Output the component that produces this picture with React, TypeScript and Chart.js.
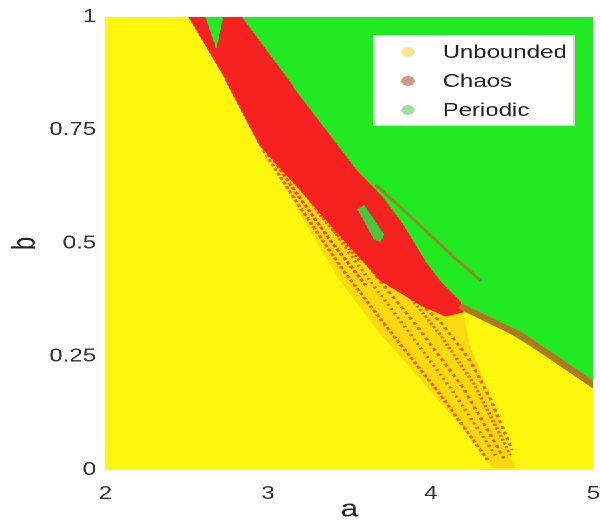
import React, { useEffect, useRef } from 'react';
import { Chart, registerables } from 'chart.js';

Chart.register(...registerables);

// ---- axis ticks ----
const xTickValues = [2, 3, 4, 5];
const xTickLabels = ['2', '3', '4', '5'];
const yTickValues = [0, 0.25, 0.5, 0.75, 1];
const yTickLabels = ['0', '0.25', '0.5', '0.75', '1'];

// ---- regions (a, b) ----
const unboundedA = [2, 5, 5, 2];
const unboundedB = [0, 0, 1, 1];

const chaosA = [2.51, 2.84, 3.16, 3.55, 3.71, 3.83, 3.98, 4.06, 4.18, 4.2, 4.09, 3.94, 3.69, 3.44, 3.2, 2.95, 2.74];
const chaosB = [1.0, 1.0, 0.845, 0.662, 0.603, 0.545, 0.457, 0.419, 0.375, 0.349, 0.34, 0.364, 0.419, 0.519, 0.618, 0.717, 0.861];

const periodicA = [2.84, 5, 5, 4.2, 4.18, 4.06, 3.98, 3.83, 3.71, 3.55, 3.16];
const periodicB = [1, 1, 0.19, 0.365, 0.375, 0.419, 0.457, 0.545, 0.603, 0.662, 0.845];

// chaotic streak band below the solid chaos region
const streakZoneA = [2.92, 3.2, 3.44, 3.67, 3.94, 4.29, 4.38, 4.52, 4.47, 4.35, 4.24, 4.2, 4.09, 3.94, 3.69, 3.44, 3.2, 2.95];
const streakZoneB = [0.751, 0.563, 0.419, 0.309, 0.199, 0.051, 0.004, 0.004, 0.051, 0.177, 0.276, 0.349, 0.34, 0.364, 0.419, 0.519, 0.618, 0.717];

const streak1A = [2.97, 3.2, 3.46, 3.72, 4.06, 4.35];
const streak1B = [0.706, 0.578, 0.442, 0.32, 0.166, 0.022];
const streak2A = [3.05, 3.29, 3.54, 3.8, 4.13, 4.41];
const streak2B = [0.706, 0.585, 0.459, 0.336, 0.177, 0.026];
const streak3A = [3.2, 3.44, 3.66, 3.91, 4.2, 4.45];
const streak3B = [0.662, 0.541, 0.43, 0.32, 0.181, 0.026];
const streak4A = [3.38, 3.63, 3.84, 4.06, 4.27, 4.49];
const streak4B = [0.585, 0.486, 0.397, 0.298, 0.188, 0.033];
const streak5A = [3.81, 4.06, 4.24, 4.37, 4.5];
const streak5B = [0.408, 0.327, 0.243, 0.155, 0.044];
const streak6A = [2.89, 3.14, 3.38, 3.6];
const streak6B = [0.762, 0.629, 0.508, 0.408];
const streak7A = [3.11, 3.32, 3.57];
const streak7B = [0.673, 0.563, 0.459];

// boundary band between periodic and unbounded
const edgeBandA = [4.18, 4.55, 5.05];
const edgeBandB = [0.362, 0.298, 0.176];
// thin window line inside periodic region
const windowLineA = [3.66, 3.8, 4.16, 4.31];
const windowLineB = [0.63, 0.585, 0.464, 0.418];

// periodic islands inside chaos
const wedgeA = [2.615, 2.72, 2.68];
const wedgeB = [1.0, 1.0, 0.932];
const islandA = [3.55, 3.59, 3.71, 3.69, 3.65];
const islandB = [0.575, 0.583, 0.52, 0.505, 0.51];

const YELLOW = 'rgb(252,247,12)';
const RED = 'rgb(246,34,34)';
const GREEN = 'rgb(34,234,34)';
const BROWN = 'rgb(178,118,34)';
const STREAK = 'rgb(236,96,22)';
const STREAK_FILL = 'rgba(240,140,30,0.28)';

const FONT = '"Liberation Sans", Arial, Helvetica, sans-serif';

function pts(A: number[], B: number[]) {
  return A.map((a, i) => ({ x: a, y: B[i] }));
}

function poly(label: string, A: number[], B: number[], color: string, order: number, extra: any = {}) {
  return {
    type: 'line',
    label,
    data: pts(A, B),
    backgroundColor: color,
    borderColor: color,
    borderWidth: 1,
    fill: 'shape',
    pointRadius: 0,
    tension: 0,
    order,
    ...extra,
  };
}

function stroke(label: string, A: number[], B: number[], color: string, width: number, order: number, dash: number[] = []) {
  return {
    type: 'line',
    label,
    data: pts(A, B),
    borderColor: color,
    backgroundColor: color,
    borderWidth: width,
    borderDash: dash,
    borderCapStyle: 'butt',
    fill: false,
    pointRadius: 0,
    tension: 0,
    order,
  };
}

const boxLegend = {
  id: 'boxLegend',
  afterDraw(chart: any) {
    const { ctx, chartArea } = chart;
    const items = chart.data.datasets.filter((d: any) => d.legendColor);
    const w = 150;
    const h = 90;
    const left = chartArea.right - 15 - w;
    const top = chartArea.top + 18;
    ctx.save();
    ctx.fillStyle = '#ffffff';
    ctx.fillRect(left, top, w, h);
    ctx.strokeStyle = '#d6d6d6';
    ctx.lineWidth = 1;
    ctx.strokeRect(left + 0.5, top + 0.5, w, h);
    ctx.font = `18px ${FONT}`;
    ctx.textBaseline = 'middle';
    ctx.textAlign = 'left';
    items.forEach((d: any, i: number) => {
      const y = top + 17 + i * 29;
      ctx.beginPath();
      ctx.fillStyle = d.legendColor;
      ctx.arc(left + 26, y, 5, 0, Math.PI * 2);
      ctx.fill();
      ctx.fillStyle = '#222222';
      ctx.fillText(d.label, left + 52, y + 1);
    });
    ctx.restore();
  },
};

export default function App() {
  const ref = useRef<HTMLCanvasElement | null>(null);

  useEffect(() => {
    if (!ref.current) return;
    const datasets: any[] = [
      poly('Unbounded', unboundedA, unboundedB, YELLOW, 20, { legendColor: 'rgb(250,226,150)' }),
      poly('Chaos', chaosA, chaosB, RED, 15, { legendColor: 'rgb(214,150,134)' }),
      poly('Periodic', periodicA, periodicB, GREEN, 14, { legendColor: 'rgb(160,222,160)' }),
      poly('streak zone', streakZoneA, streakZoneB, STREAK_FILL, 19, { borderColor: 'rgba(0,0,0,0)' }),
      stroke('s1', streak1A, streak1B, STREAK, 2.5, 18, [3, 2]),
      stroke('s2', streak2A, streak2B, STREAK, 2.5, 18, [2, 3]),
      stroke('s3', streak3A, streak3B, STREAK, 2.5, 18, [3, 3]),
      stroke('s4', streak4A, streak4B, STREAK, 2.5, 18, [2, 2]),
      stroke('s5', streak5A, streak5B, STREAK, 2.5, 18, [3, 3]),
      stroke('s6', streak6A, streak6B, 'rgb(238,70,24)', 2.5, 18, [3, 2]),
      stroke('s7', streak7A, streak7B, 'rgb(238,70,24)', 2.5, 18, [2, 2]),
      stroke('edge band', edgeBandA, edgeBandB, BROWN, 6, 12),
      stroke('window line', windowLineA, windowLineB, 'rgba(168,112,40,0.8)', 2.5, 11),
      poly('wedge', wedgeA, wedgeB, GREEN, 10),
      poly('island', islandA, islandB, 'rgb(70,200,60)', 10),
    ];

    const chart = new Chart(ref.current, {
      type: 'line',
      data: { datasets },
      options: {
        animation: false,
        responsive: false,
        devicePixelRatio: 2,
        events: [],
        layout: { padding: { top: 17, right: 5, left: 0, bottom: 0 } },
        plugins: {
          legend: { display: false },
          tooltip: { enabled: false },
        },
        scales: {
          x: {
            type: 'linear',
            min: 2,
            max: 5,
            afterFit: (s: any) => {
              s.height = 52;
              s.paddingLeft = 3;
              s.paddingRight = 3;
            },
            afterBuildTicks: (s: any) => { s.ticks = xTickValues.map((v) => ({ value: v })); },
            ticks: {
              font: { size: 18, family: FONT },
              color: '#333333',
              padding: 13,
              callback: (v: any) => xTickLabels[xTickValues.indexOf(Number(v))] ?? '',
            },
            grid: { display: false, drawTicks: false },
            border: { display: false },
            title: {
              display: true,
              text: 'a',
              color: '#222222',
              font: { size: 24, family: FONT, lineHeight: 1 },
              padding: { top: 0, bottom: 0 },
            },
          },
          y: {
            type: 'linear',
            min: 0,
            max: 1,
            afterFit: (s: any) => {
              s.width = 79;
              s.paddingTop = 3;
              s.paddingBottom = 3;
            },
            afterBuildTicks: (s: any) => { s.ticks = yTickValues.map((v) => ({ value: v })); },
            ticks: {
              font: { size: 18, family: FONT },
              color: '#333333',
              padding: 7,
              callback: (v: any) => yTickLabels[yTickValues.indexOf(Number(v))] ?? '',
            },
            grid: { display: false, drawTicks: false },
            border: { display: false },
            title: {
              display: true,
              text: 'b',
              color: '#222222',
              font: { size: 24, family: FONT },
              padding: { top: 5, bottom: 0 },
            },
          },
        },
      },
      plugins: [boxLegend],
    } as any);

    return () => chart.destroy();
  }, []);

  return (
    <div
      style={{
        position: 'absolute',
        left: 0,
        top: 0,
        width: 450,
        height: 522,
        transform: 'scaleX(1.333333)',
        transformOrigin: '0 0',
        background: '#ffffff',
      }}
    >
      <canvas ref={ref} width={450} height={522} />
    </div>
  );
}
